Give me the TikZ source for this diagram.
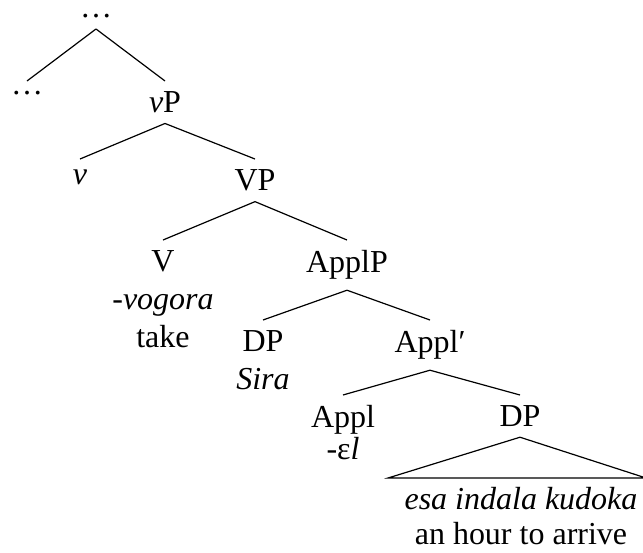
\documentclass[tikz,border=0pt]{standalone}
\usepackage{fontspec}
\setmainfont{Liberation Serif}
\begin{document}
\begin{tikzpicture}[x=0.5pt,y=-0.5pt,line width=0.6pt,
    every node/.style={font=\fontsize{16pt}{19pt}\selectfont,anchor=north,
      inner xsep=1pt,inner ysep=5pt,align=center}]
    \useasboundingbox (0,0) rectangle (643,552);
    % the tree, one level per row
    \node (root)  at (96,4)    {\ldots};
    \node (rest)  at (27,81)   {\ldots};
    \node (vP)    at (165,81)  {\textit{v}P};
    \node (v)     at (80,159)  {\textit{v}};
    \node (VP)    at (255,159) {VP};
    \node (V)     at (163,240) {V\\\textit{-vogora}\\take};
    \node (ApplP) at (347,240) {ApplP};
    \node (DPa)   at (263,320) {DP\\\textit{Sira}};
    \node (Applb) at (430,320) {Appl′};
    \node (Appl)  at (343,395) {Appl\\[-3pt]-ɛ\textit{l}};
    \node (DPb)   at (520,395) {DP};
    \foreach \a/\b in {root/rest,root/vP,vP/v,vP/VP,VP/V,VP/ApplP,
                       ApplP/DPa,ApplP/Applb,Applb/Appl,Applb/DPb}
      \draw (\a.south) -- (\b.north);
    % roof over the object DP
    \coordinate (tl) at (388,478);
    \coordinate (tr) at (646,478);
    \draw (DPb.south) -- (tl) -- (tr) -- cycle;
    \node (leaf) at (521,477) {\textit{esa indala kudoka}\\[-1.5pt]an hour to arrive};
  \end{tikzpicture}
\end{document}
